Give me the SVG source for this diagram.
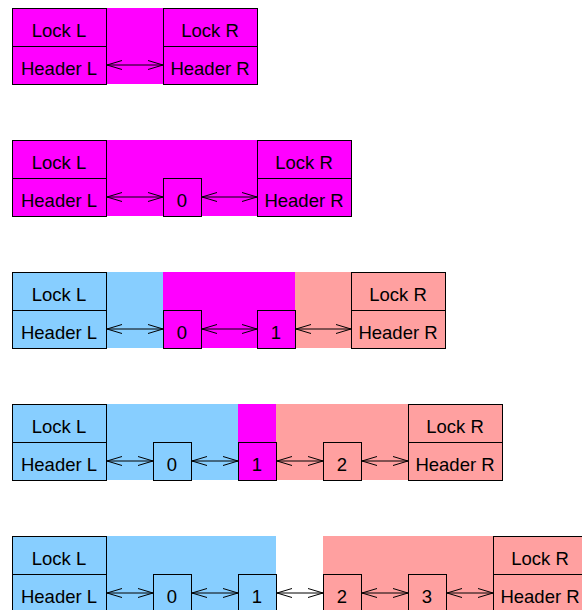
<svg xmlns="http://www.w3.org/2000/svg" width="582" height="610" viewBox="0 0 582 610">
<style>
.m{fill:#ff00ff}.b{fill:#87ceff}.p{fill:#ffa0a0}
.box{stroke:#000;stroke-width:1}
text{font-family:"Liberation Sans",Arial,sans-serif;font-size:18.5px;fill:#000;text-anchor:middle}
.c line{stroke:#000;stroke-width:1;marker-start:url(#ah);marker-end:url(#ah)}
</style>
<defs>
<marker id="ah" viewBox="0 0 17 11" markerWidth="17" markerHeight="11" refX="16" refY="5.5" orient="auto-start-reverse" markerUnits="userSpaceOnUse">
<path d="M1,1 L16,5.5 L1,10" fill="none" stroke="#000" stroke-width="1"/>
</marker>
</defs>
<g id="backgrounds">
<rect class="m" x="12" y="8" width="245" height="76"/>
<rect class="m" x="12" y="140" width="339" height="76"/>
<rect class="b" x="12" y="272" width="151" height="76"/>
<rect class="m" x="163" y="272" width="132" height="76"/>
<rect class="p" x="295" y="272" width="150" height="76"/>
<rect class="b" x="12" y="404" width="226" height="76"/>
<rect class="m" x="238" y="404" width="38" height="76"/>
<rect class="p" x="276" y="404" width="226" height="76"/>
<rect class="b" x="12" y="536" width="264" height="76"/>
<rect class="p" x="323" y="536" width="262" height="76"/>
</g>
<g id="row1">
<g id="r1-L"><rect class="box m" x="12.5" y="8.5" width="94" height="38"/><rect class="box m" x="12.5" y="46.5" width="94" height="38"/><text x="59" y="37">Lock L</text><text x="59" y="75">Header L</text></g>
<g id="r1-R"><rect class="box m" x="163.5" y="8.5" width="94" height="38"/><rect class="box m" x="163.5" y="46.5" width="94" height="38"/><text x="210" y="37">Lock R</text><text x="210" y="75">Header R</text></g>
</g>
<g id="row2">
<g id="r2-L"><rect class="box m" x="12.5" y="140.5" width="94" height="38"/><rect class="box m" x="12.5" y="178.5" width="94" height="38"/><text x="59" y="169">Lock L</text><text x="59" y="207">Header L</text></g>
<g id="r2-0"><rect class="box m" x="163.5" y="178.5" width="38" height="38"/><text x="182" y="207">0</text></g>
<g id="r2-R"><rect class="box m" x="257.5" y="140.5" width="94" height="38"/><rect class="box m" x="257.5" y="178.5" width="94" height="38"/><text x="304" y="169">Lock R</text><text x="304" y="207">Header R</text></g>
</g>
<g id="row3">
<g id="r3-L"><rect class="box b" x="12.5" y="272.5" width="94" height="38"/><rect class="box b" x="12.5" y="310.5" width="94" height="38"/><text x="59" y="301">Lock L</text><text x="59" y="339">Header L</text></g>
<g id="r3-0"><rect class="box m" x="163.5" y="310.5" width="38" height="38"/><text x="182" y="339">0</text></g>
<g id="r3-1"><rect class="box m" x="257.5" y="310.5" width="38" height="38"/><text x="276" y="339">1</text></g>
<g id="r3-R"><rect class="box p" x="351.5" y="272.5" width="94" height="38"/><rect class="box p" x="351.5" y="310.5" width="94" height="38"/><text x="398" y="301">Lock R</text><text x="398" y="339">Header R</text></g>
</g>
<g id="row4">
<g id="r4-L"><rect class="box b" x="12.5" y="404.5" width="94" height="38"/><rect class="box b" x="12.5" y="442.5" width="94" height="38"/><text x="59" y="433">Lock L</text><text x="59" y="471">Header L</text></g>
<g id="r4-0"><rect class="box b" x="153.5" y="442.5" width="38" height="38"/><text x="172" y="471">0</text></g>
<g id="r4-1"><rect class="box m" x="238.5" y="442.5" width="38" height="38"/><text x="257" y="471">1</text></g>
<g id="r4-2"><rect class="box p" x="323.5" y="442.5" width="38" height="38"/><text x="342" y="471">2</text></g>
<g id="r4-R"><rect class="box p" x="408.5" y="404.5" width="94" height="38"/><rect class="box p" x="408.5" y="442.5" width="94" height="38"/><text x="455" y="433">Lock R</text><text x="455" y="471">Header R</text></g>
</g>
<g id="row5">
<g id="r5-L"><rect class="box b" x="12.5" y="536.5" width="94" height="38"/><rect class="box b" x="12.5" y="574.5" width="94" height="38"/><text x="59" y="565">Lock L</text><text x="59" y="603">Header L</text></g>
<g id="r5-0"><rect class="box b" x="153.5" y="574.5" width="38" height="38"/><text x="172" y="603">0</text></g>
<g id="r5-1"><rect class="box b" x="238.5" y="574.5" width="38" height="38"/><text x="257" y="603">1</text></g>
<g id="r5-2"><rect class="box p" x="323.5" y="574.5" width="38" height="38"/><text x="342" y="603">2</text></g>
<g id="r5-3"><rect class="box p" x="408.5" y="574.5" width="38" height="38"/><text x="427" y="603">3</text></g>
<g id="r5-R"><rect class="box p" x="493.5" y="536.5" width="94" height="38"/><rect class="box p" x="493.5" y="574.5" width="94" height="38"/><text x="540" y="565">Lock R</text><text x="540" y="603">Header R</text></g>
</g>
<g id="connectors" class="c">
<line x1="107" y1="65" x2="163" y2="65"/>
<line x1="107" y1="197" x2="163" y2="197"/>
<line x1="202" y1="197" x2="257" y2="197"/>
<line x1="107" y1="329" x2="163" y2="329"/>
<line x1="202" y1="329" x2="257" y2="329"/>
<line x1="296" y1="329" x2="351" y2="329"/>
<line x1="107" y1="461" x2="153" y2="461"/>
<line x1="192" y1="461" x2="238" y2="461"/>
<line x1="277" y1="461" x2="323" y2="461"/>
<line x1="362" y1="461" x2="408" y2="461"/>
<line x1="107" y1="593" x2="153" y2="593"/>
<line x1="192" y1="593" x2="238" y2="593"/>
<line x1="277" y1="593" x2="323" y2="593"/>
<line x1="362" y1="593" x2="408" y2="593"/>
<line x1="447" y1="593" x2="493" y2="593"/>
</g>
</svg>
